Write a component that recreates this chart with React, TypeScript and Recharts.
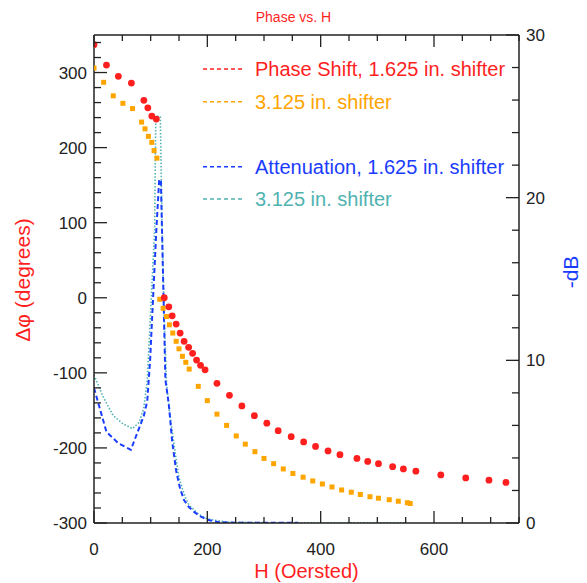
import React from 'react';
import { ComposedChart, Scatter, Line, XAxis, YAxis, Legend } from 'recharts';

// phase shift, 1.625 in. shifter (red dots)
const phaseH1 = [0, 22, 43, 66, 88, 95, 102, 110, 124, 132, 138, 145, 152, 159, 167, 174, 181, 188, 196, 217, 239, 261, 283, 305, 325, 348, 370, 391, 413, 434, 464, 483, 502, 527, 546, 568, 612, 656, 697, 727];
const phaseDeg1 = [337, 310, 295, 286, 263, 253, 242, 238, 0, -12, -24, -35, -47, -58, -66, -74, -83, -90, -96, -114, -130, -144, -157, -167, -177, -185, -192, -198, -204, -209, -214, -218, -221, -225, -228, -231, -236, -240, -243, -246];

// phase shift, 3.125 in. shifter (orange squares)
const phaseH3 = [0, 17, 34, 51, 68, 84, 90, 96, 102, 106, 111, 116, 122, 128, 133, 139, 145, 150, 156, 162, 168, 184, 200, 217, 234, 251, 267, 284, 300, 317, 334, 351, 369, 386, 403, 420, 437, 454, 470, 487, 502, 521, 537, 553, 558];
const phaseDeg3 = [306, 287, 269, 259, 252, 234, 225, 215, 207, 196, 186, -2, -14, -25, -36, -47, -58, -68, -78, -86, -95, -118, -137, -155, -170, -184, -195, -205, -214, -221, -228, -234, -239, -244, -248, -252, -256, -259, -262, -265, -267, -269, -271, -273, -274];

// attenuation, 1.625 in. shifter (blue dashed)
const attH1 = [0, 22, 43, 65, 88, 94, 99, 110, 115, 118, 120, 126, 132, 138, 145, 152, 159, 167, 176, 188, 200, 220, 250, 300, 360];
const attDb1 = [8.3, 5.6, 4.9, 4.5, 6.6, 7.5, 10, 18, 21.1, 21.1, 18, 8.8, 7.3, 5.0, 3.2, 2.1, 1.4, 1.0, 0.7, 0.4, 0.2, 0.05, 0.02, 0.02, 0.02];

// attenuation, 3.125 in. shifter (teal dotted)
const attH3 = [0, 17, 34, 51, 68, 80, 88, 94, 107, 109, 117, 120, 124, 128, 133, 139, 145, 150, 156, 162, 168, 184, 200, 234, 300, 400, 550];
const attDb3 = [9.1, 7.7, 6.6, 6.1, 5.8, 6.2, 7.1, 8.8, 18, 25, 25, 18.5, 12.5, 8.6, 6.9, 5.4, 3.9, 2.8, 2.1, 1.5, 1.1, 0.55, 0.25, 0.05, 0.02, 0.02, 0.02];

const xTicks = [0, 50, 100, 150, 200, 250, 300, 350, 400, 450, 500, 550, 600, 650, 700, 750];
const xLabels = [0, 200, 400, 600];
const degTicks = [-300, -280, -260, -240, -220, -200, -180, -160, -140, -120, -100, -80, -60, -40, -20, 0, 20, 40, 60, 80, 100, 120, 140, 160, 180, 200, 220, 240, 260, 280, 300, 320, 340];
const degLabels = [-300, -200, -100, 0, 100, 200, 300];
const dbTicks = [0, 2, 4, 6, 8, 10, 12, 14, 16, 18, 20, 22, 24, 26, 28, 30];
const dbLabels = [0, 10, 20, 30];

const legendNames = ['Phase Shift, 1.625 in. shifter', '3.125 in. shifter', 'Attenuation, 1.625 in. shifter', '3.125 in. shifter'];

const RED = '#ff1f1f';
const ORANGE = '#ffa500';
const BLUE = '#1a3cff';
const TEAL = '#4fb3b0';
const INK = '#222';
const FONT = '"Liberation Sans", Arial, Helvetica, sans-serif';

const legendColors = [RED, ORANGE, BLUE, TEAL];
const legendRows = [19, 51.7, 116.7, 149];

const phase1 = phaseH1.map((h, i) => ({ h, deg: phaseDeg1[i] }));
const phase3 = phaseH3.map((h, i) => ({ h, deg: phaseDeg3[i] }));
const att1 = attH1.map((h, i) => ({ h, db: attDb1[i] }));
const att3 = attH3.map((h, i) => ({ h, db: attDb3[i] }));

const BottomTick = (props: any) => {
  const { x, y, payload } = props;
  const major = xLabels.includes(payload.value);
  return (
    <g>
      <line x1={x} y1={y} x2={x} y2={y - (major ? 12 : 6)} stroke={INK} strokeWidth={1.3} />
      {major && (
        <text x={x} y={y + 32} textAnchor="middle" fontSize={17} fontFamily={FONT} fill={INK}>
          {payload.value}
        </text>
      )}
    </g>
  );
};

const TopTick = (props: any) => {
  const { x, y, payload } = props;
  const major = xLabels.includes(payload.value);
  return <line x1={x} y1={y} x2={x} y2={y + (major ? 12 : 6)} stroke={INK} strokeWidth={1.3} />;
};

const LeftTick = (props: any) => {
  const { x, y, payload } = props;
  const major = degLabels.includes(payload.value);
  return (
    <g>
      <line x1={x} y1={y} x2={x + (major ? 13 : 7)} y2={y} stroke={INK} strokeWidth={1.3} />
      {major && (
        <text x={x - 7} y={y + 6} textAnchor="end" fontSize={17} fontFamily={FONT} fill={INK}>
          {payload.value}
        </text>
      )}
    </g>
  );
};

const RightTick = (props: any) => {
  const { x, y, payload } = props;
  const major = dbLabels.includes(payload.value);
  return (
    <g>
      <line x1={x} y1={y} x2={x - (major ? 13 : 7)} y2={y} stroke={INK} strokeWidth={1.3} />
      {major && (
        <text x={x + 7} y={y + 6} textAnchor="start" fontSize={17} fontFamily={FONT} fill={INK}>
          {payload.value}
        </text>
      )}
    </g>
  );
};

const LegendBox = () => (
  <svg width={340} height={170} style={{ display: 'block' }}>
    {legendNames.map((name, i) => (
      <g key={i}>
        <line x1={8} y1={legendRows[i]} x2={50} y2={legendRows[i]} stroke={legendColors[i]} strokeWidth={1.5} strokeDasharray="4 3" />
        <text x={60} y={legendRows[i] + 7} fontSize={20} fontFamily={FONT} fill={legendColors[i]}>
          {name}
        </text>
      </g>
    ))}
  </svg>
);

const RedDot = (props: any) => <circle cx={props.cx} cy={props.cy} r={3.4} fill={RED} />;
const OrangeSquare = (props: any) => <rect x={props.cx - 2.5} y={props.cy - 2.5} width={5} height={5} fill={ORANGE} />;

export default function App() {
  return (
    <div style={{ position: 'absolute', left: 0, top: 0, width: 587, height: 583, background: '#fff' }}>
      <ComposedChart width={587} height={583} margin={{ top: 5, right: 8, bottom: 0, left: 0 }}>
        <XAxis
          xAxisId="bottom"
          type="number"
          dataKey="h"
          domain={[0, 750]}
          allowDataOverflow
          ticks={xTicks}
          interval={0}
          height={60}
          tickSize={0}
          tickMargin={0}
          tickLine={false}
          tick={<BottomTick />}
          axisLine={{ stroke: INK, strokeWidth: 1.5 }}
          label={() => (
            <text x={306.5} y={578} textAnchor="middle" fontSize={20} fontFamily={FONT} fill={RED}>
              H (Oersted)
            </text>
          )}
        />
        <XAxis
          xAxisId="top"
          orientation="top"
          type="number"
          dataKey="h"
          domain={[0, 750]}
          allowDataOverflow
          ticks={xTicks}
          interval={0}
          height={30}
          tickSize={0}
          tickMargin={0}
          tickLine={false}
          tick={<TopTick />}
          axisLine={{ stroke: INK, strokeWidth: 1.5 }}
          label={() => (
            <text x={293.5} y={22} textAnchor="middle" fontSize={14} fontFamily={FONT} fill={RED}>
              Phase vs. H
            </text>
          )}
        />
        <YAxis
          yAxisId="left"
          type="number"
          domain={[-300, 350]}
          allowDataOverflow
          ticks={degTicks}
          interval={0}
          width={94}
          tickSize={0}
          tickMargin={0}
          tickLine={false}
          tick={<LeftTick />}
          axisLine={{ stroke: INK, strokeWidth: 1.5 }}
          label={() => (
            <text x={22} y={280} transform="rotate(-90 22 280)" textAnchor="middle" dominantBaseline="central" fontSize={21} fontFamily={FONT} fill={RED}>
              Δφ (degrees)
            </text>
          )}
        />
        <YAxis
          yAxisId="right"
          orientation="right"
          type="number"
          domain={[0, 30]}
          allowDataOverflow
          ticks={dbTicks}
          interval={0}
          width={60}
          tickSize={0}
          tickMargin={0}
          tickLine={false}
          tick={<RightTick />}
          axisLine={{ stroke: INK, strokeWidth: 1.5 }}
          label={() => (
            <text x={570} y={272} transform="rotate(-90 570 272)" textAnchor="middle" dominantBaseline="central" fontSize={21} fontFamily={FONT} fill={BLUE}>
              -dB
            </text>
          )}
        />
        <Legend
          layout="vertical"
          align="center"
          verticalAlign="middle"
          wrapperStyle={{ left: 195, top: 50, width: 340, height: 170 }}
          content={LegendBox}
        />
        <Line
          data={att3}
          xAxisId="bottom"
          yAxisId="right"
          dataKey="db"
          type="linear"
          stroke={TEAL}
          strokeWidth={1.6}
          strokeDasharray="1.5 1.8"
          dot={false}
          isAnimationActive={false}
        />
        <Line
          data={att1}
          xAxisId="bottom"
          yAxisId="right"
          dataKey="db"
          type="linear"
          stroke={BLUE}
          strokeWidth={2}
          strokeDasharray="5 3"
          dot={false}
          isAnimationActive={false}
        />
        <Scatter data={phase3} xAxisId="bottom" yAxisId="left" dataKey="deg" fill={ORANGE} shape={OrangeSquare} isAnimationActive={false} />
        <Scatter data={phase1} xAxisId="bottom" yAxisId="left" dataKey="deg" fill={RED} shape={RedDot} isAnimationActive={false} />
      </ComposedChart>
    </div>
  );
}
